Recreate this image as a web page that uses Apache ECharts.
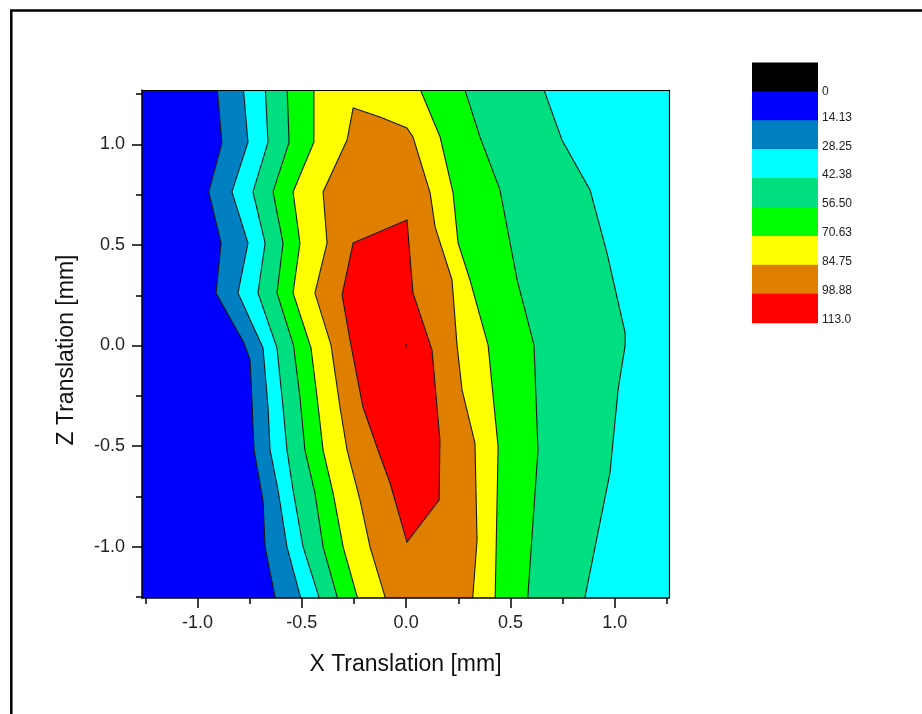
<!DOCTYPE html>
<html>
<head>
<meta charset="utf-8">
<script src="https://cdn.jsdelivr.net/npm/echarts@6/dist/echarts.min.js"></script>
<style>
html,body{margin:0;padding:0;background:#fff;}
#chart{width:922px;height:714px;}
</style>
</head>
<body>
<div id="chart"></div>
<script>
// ---- data ----
const levelLabels = ['0', '14.13', '28.25', '42.38', '56.50', '70.63', '84.75', '98.88', '113.0'];
const xTickValues = [-1.0, -0.5, 0.0, 0.5, 1.0];
const xMinorTicks = [-1.25, -0.75, -0.25, 0.25, 0.75, 1.25];
const yTickValues = [-1.0, -0.5, 0.0, 0.5, 1.0];
const yMinorTicks = [-1.25, -0.75, -0.25, 0.25, 0.75, 1.25];

// contour lines [x, z] in mm
const c14 = [[-0.907,1.3],[-0.883,1.007],[-0.946,0.764],[-0.887,0.510],[-0.911,0.261],[-0.777,0.012],[-0.748,-0.072],[-0.739,-0.271],[-0.729,-0.520],[-0.686,-0.769],[-0.676,-1.002],[-0.619,-1.3]];
const c28 = [[-0.782,1.3],[-0.758,1.012],[-0.835,0.764],[-0.758,0.510],[-0.806,0.261],[-0.686,-0.012],[-0.662,-0.306],[-0.652,-0.520],[-0.614,-0.719],[-0.571,-1.002],[-0.494,-1.3]];
const c42L = [[-0.676,1.3],[-0.662,1.012],[-0.734,0.764],[-0.676,0.510],[-0.710,0.261],[-0.619,-0.012],[-0.590,-0.306],[-0.571,-0.520],[-0.542,-0.719],[-0.494,-1.002],[-0.403,-1.3]];
const c42R = [[0.651,1.3],[0.747,1.022],[0.882,0.773],[0.963,0.460],[1.050,0.062],[1.050,0.002],[1.016,-0.221],[0.977,-0.634],[0.848,-1.3]];
const c56L = [[-0.571,1.3],[-0.561,1.012],[-0.638,0.764],[-0.590,0.510],[-0.619,0.261],[-0.540,0.002],[-0.509,-0.256],[-0.485,-0.520],[-0.437,-0.734],[-0.398,-1.002],[-0.317,-1.3]];
const c56R = [[0.273,1.3],[0.354,1.037],[0.450,0.773],[0.532,0.326],[0.613,0.002],[0.632,-0.520],[0.580,-1.3]];
const c70L = [[-0.442,1.3],[-0.442,1.012],[-0.542,0.764],[-0.509,0.510],[-0.542,0.261],[-0.456,-0.012],[-0.427,-0.256],[-0.398,-0.520],[-0.350,-0.734],[-0.302,-1.002],[-0.221,-1.3]];
const c70R = [[0.057,1.3],[0.163,1.037],[0.225,0.759],[0.249,0.510],[0.306,0.326],[0.393,0.002],[0.441,-0.505],[0.426,-1.3]];
const c85 = [[-0.254,1.182],[-0.283,1.022],[-0.398,0.764],[-0.379,0.510],[-0.437,0.261],[-0.360,0.002],[-0.317,-0.306],[-0.283,-0.520],[-0.221,-0.769],[-0.173,-1.002],[-0.087,-1.3],[0.316,-1.3],[0.340,-0.968],[0.330,-0.485],[0.268,-0.221],[0.244,0.002],[0.220,0.326],[0.139,0.590],[0.115,0.759],[0.033,1.037],[0.004,1.082],[-0.125,1.137]];
const c99 = [[-0.254,0.510],[0.004,0.624],[0.033,0.261],[0.124,-0.022],[0.162,-0.470],[0.158,-0.769],[0.004,-0.978],[-0.077,-0.684],[-0.135,-0.520],[-0.207,-0.306],[-0.269,0.027],[-0.307,0.251]];
const centerPoint = [[0, 0]];

// ---- styles ----
const bandColors = ['#000000', '#0000FF', '#0080C0', '#00FFFF', '#00DF80', '#00FF00', '#FFFF00', '#DF7F00', '#FF0000'];
const FONT = 'Arial, "Liberation Sans", sans-serif';
const X_MIN = -1.266, X_MAX = 1.260, Y_MIN = -1.256, Y_MAX = 1.271;
const E = 1.5; // outside extent for region closing (clipped)

// filled superlevel regions, painted from low to high
const regions = [
  { band: 1, poly: [[-E, E], [E, E], [E, -E], [-E, -E]] },
  { band: 2, poly: c14.concat([[E, -E], [E, E]]) },
  { band: 3, poly: c28.concat([[E, -E], [E, E]]) },
  { band: 4, poly: c42L.concat(c42R.slice().reverse()) },
  { band: 5, poly: c56L.concat(c56R.slice().reverse()) },
  { band: 6, poly: c70L.concat(c70R.slice().reverse()) },
  { band: 7, poly: c85 },
  { band: 8, poly: c99 }
];
const contourLines = [
  { pts: c14, closed: false }, { pts: c28, closed: false },
  { pts: c42L, closed: false }, { pts: c42R, closed: false },
  { pts: c56L, closed: false }, { pts: c56R, closed: false },
  { pts: c70L, closed: false }, { pts: c70R, closed: false },
  { pts: c85, closed: true }, { pts: c99, closed: true }
];

// ---- legend (colour scale) ----
const LEG_X = 752, LEG_Y = 62.5, LEG_W = 66, LEG_H = 28.9;
const graphics = [];
bandColors.forEach((c, i) => {
  graphics.push({ type: 'rect', shape: { x: LEG_X, y: LEG_Y + i * LEG_H, width: LEG_W, height: LEG_H + 0.6 }, style: { fill: c }, z: 10 });
});
levelLabels.forEach((t, i) => {
  const y = i === 0 ? 92 : LEG_Y + (i + 1) * LEG_H - 3;
  graphics.push({ type: 'text', x: 822, y: y, style: { text: t, font: '12px ' + FONT, fill: '#222', verticalAlign: 'middle', align: 'left' }, z: 10 });
});
// outer frame
graphics.push({ type: 'polyline', shape: { points: [[11.3, 730], [11.3, 10.5], [935, 10.5]] }, style: { stroke: '#000', lineWidth: 2.5, fill: null }, z: 10 });

const chart = echarts.init(document.getElementById('chart'), null, { renderer: 'canvas' });
const axisCommon = { type: 'value', splitLine: { show: false }, z: 5 };
chart.setOption({
  animation: false,
  backgroundColor: '#fff',
  grid: { left: 142, top: 90, width: 527, height: 508, show: false },
  graphic: graphics,
  xAxis: [
    Object.assign({}, axisCommon, {
      min: X_MIN, max: X_MAX, position: 'bottom',
      name: 'X Translation [mm]', nameLocation: 'middle', nameGap: 55,
      nameTextStyle: { fontFamily: FONT, fontSize: 23, color: '#111' },
      axisLine: { show: true, onZero: false, lineStyle: { color: '#000', width: 1.5 } },
      axisTick: { show: true, customValues: xTickValues, length: 10, lineStyle: { color: '#000', width: 1.5 } },
      axisLabel: { show: true, customValues: xTickValues, margin: 16, formatter: v => v.toFixed(1), fontFamily: FONT, fontSize: 18, color: '#222' }
    }),
    Object.assign({}, axisCommon, {
      min: X_MIN, max: X_MAX, position: 'bottom',
      axisLine: { show: false, onZero: false },
      axisTick: { show: true, customValues: xMinorTicks, length: 6, lineStyle: { color: '#000', width: 1.5 } },
      axisLabel: { show: false }
    }),
    Object.assign({}, axisCommon, {
      min: X_MIN, max: X_MAX, position: 'top',
      axisLine: { show: true, onZero: false, lineStyle: { color: '#000', width: 1.2 } },
      axisTick: { show: false }, axisLabel: { show: false }
    })
  ],
  yAxis: [
    Object.assign({}, axisCommon, {
      min: Y_MIN, max: Y_MAX, position: 'left',
      name: 'Z Translation [mm]', nameLocation: 'middle', nameGap: 64,
      nameTextStyle: { fontFamily: FONT, fontSize: 23, color: '#111', padding: [0, 12, 0, 0] },
      axisLine: { show: true, onZero: false, lineStyle: { color: '#000', width: 1.5 } },
      axisTick: { show: true, customValues: yTickValues, length: 10, lineStyle: { color: '#000', width: 1.5 } },
      axisLabel: { show: true, customValues: yTickValues, margin: 17, formatter: v => v.toFixed(1), fontFamily: FONT, fontSize: 18, color: '#222' }
    }),
    Object.assign({}, axisCommon, {
      min: Y_MIN, max: Y_MAX, position: 'left',
      axisLine: { show: false, onZero: false },
      axisTick: { show: true, customValues: yMinorTicks, length: 6, lineStyle: { color: '#000', width: 1.5 } },
      axisLabel: { show: false }
    }),
    Object.assign({}, axisCommon, {
      min: Y_MIN, max: Y_MAX, position: 'right',
      axisLine: { show: true, onZero: false, lineStyle: { color: '#000', width: 1.2 } },
      axisTick: { show: false }, axisLabel: { show: false }
    })
  ],
  series: [
    {
      type: 'custom', name: 'fills', xAxisIndex: 0, yAxisIndex: 0, clip: true, z: 1,
      data: regions.map((r, i) => i),
      renderItem: function (params, api) {
        const r = regions[params.dataIndex];
        return {
          type: 'polygon',
          shape: { points: r.poly.map(p => api.coord(p)) },
          style: { fill: bandColors[r.band], stroke: null }
        };
      }
    },
    {
      type: 'custom', name: 'lines', xAxisIndex: 0, yAxisIndex: 0, clip: true, z: 2,
      data: contourLines.map((l, i) => i),
      renderItem: function (params, api) {
        const l = contourLines[params.dataIndex];
        return {
          type: l.closed ? 'polygon' : 'polyline',
          shape: { points: l.pts.map(p => api.coord(p)) },
          style: { fill: null, stroke: '#1a1a1a', lineWidth: 1.1 }
        };
      }
    },
    {
      type: 'scatter', xAxisIndex: 0, yAxisIndex: 0, data: centerPoint,
      symbol: 'rect', symbolSize: [2, 4], itemStyle: { color: '#550000' }, z: 3, silent: true
    }
  ]
});
</script>
</body>
</html>
